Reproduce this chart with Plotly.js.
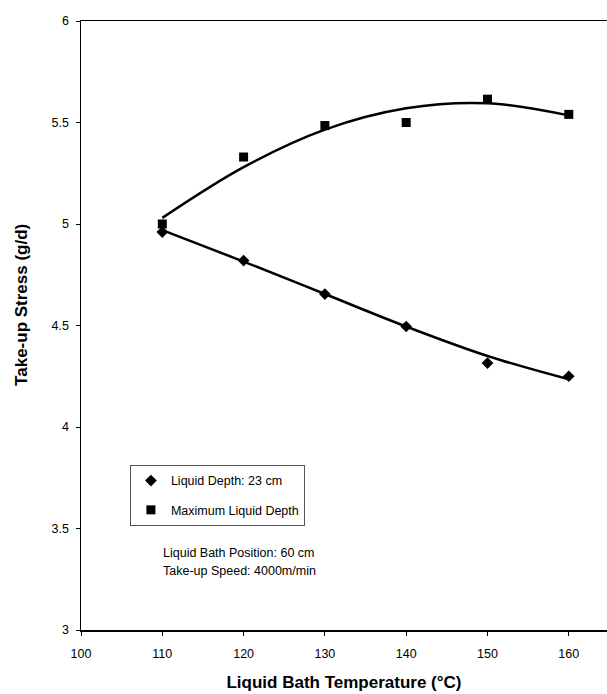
<!DOCTYPE html>
<html>
<head>
<meta charset="utf-8">
<script src="https://cdn.plot.ly/plotly-3.0.1.min.js"></script>
<style>html,body{margin:0;padding:0;background:#fff;}</style>
</head>
<body>
<div id="chart" style="width:607px;height:694px;"></div>
<script>
// Data
var temps = [110, 120, 130, 140, 150, 160];
var depth23 = [4.96, 4.82, 4.655, 4.495, 4.315, 4.25];
var maxDepth = [5.00, 5.33, 5.485, 5.50, 5.615, 5.54];
// Trend-line values
var fit23 = [4.97, 4.815, 4.655, 4.495, 4.35, 4.235];
var fitMax = [5.03, 5.28, 5.465, 5.57, 5.595, 5.535];
var xTicks = [100, 110, 120, 130, 140, 150, 160];
var yTicks = [3, 3.5, 4, 4.5, 5, 5.5, 6];

var FONT = 'Liberation Sans, Arial, sans-serif';

var traces = [
  {x: temps, y: fit23, mode: 'lines', line: {color: '#000', width: 2.5, shape: 'spline'}, showlegend: false, hoverinfo: 'skip'},
  {x: temps, y: fitMax, mode: 'lines', line: {color: '#000', width: 2.5, shape: 'spline'}, showlegend: false, hoverinfo: 'skip'},
  {x: temps, y: depth23, mode: 'markers', name: 'Liquid Depth: 23 cm', legendgroup: 'a',
   marker: {symbol: 'diamond', size: 9, color: '#000'}},
  {x: temps, y: maxDepth, mode: 'markers', name: 'Maximum Liquid Depth', legendgroup: 'b',
   marker: {symbol: 'square', size: 9, color: '#000'}}
];

var layout = {
  width: 607, height: 694,
  margin: {l: 81, r: 0, t: 21, b: 64},
  paper_bgcolor: '#fff', plot_bgcolor: '#fff',
  font: {family: FONT, size: 12, color: '#000'},
  xaxis: {
    range: [100, 164.7], tickvals: xTicks, ticktext: xTicks.map(String),
    showgrid: false, zeroline: false, showline: true, linecolor: '#000', linewidth: 1.5,
    mirror: true, ticks: 'outside', ticklen: 4, tickcolor: '#000',
    tickfont: {size: 12.5}, ticklabelstandoff: 7,
    title: {text: 'Liquid Bath Temperature (°C)', font: {size: 17, family: FONT, weight: 'bold'}, standoff: 16}
  },
  yaxis: {
    range: [3, 6], tickvals: yTicks, ticktext: yTicks.map(String),
    showgrid: false, zeroline: false, showline: true, linecolor: '#000', linewidth: 1.5,
    mirror: false, ticks: 'outside', ticklen: 4, tickcolor: '#000',
    tickfont: {size: 12.5}, ticklabelstandoff: 4
  },
  showlegend: true,
  legend: {
    x: 0.093, y: 0.271, xanchor: 'left', yanchor: 'top',
    bordercolor: '#555', borderwidth: 1, bgcolor: 'rgba(255,255,255,0)',
    font: {size: 12.5}, traceorder: 'grouped', tracegroupgap: 10, itemwidth: 30
  },
  annotations: [
    {xref: 'paper', yref: 'paper', x: -0.112, y: 0.534, xanchor: 'center', yanchor: 'middle',
     textangle: -90, text: 'Take-up Stress (g/d)', showarrow: false,
     font: {size: 17, family: FONT, weight: 'bold'}},
    {xref: 'paper', yref: 'paper', x: 0.152, y: 0.1264, xanchor: 'left', yanchor: 'middle',
     text: 'Liquid Bath Position: 60 cm', showarrow: false, font: {size: 12.5}},
    {xref: 'paper', yref: 'paper', x: 0.152, y: 0.0969, xanchor: 'left', yanchor: 'middle',
     text: 'Take-up Speed: 4000m/min', showarrow: false, font: {size: 12.5}}
  ]
};

Plotly.newPlot('chart', traces, layout, {displayModeBar: false, staticPlot: true});
</script>
</body>
</html>
